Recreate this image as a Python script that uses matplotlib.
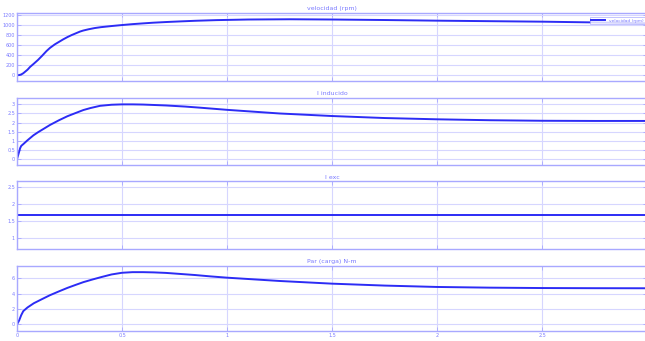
import matplotlib
matplotlib.use("Agg")
import matplotlib.pyplot as plt

# ---- datos ----
t_vel = [0, 0.01, 0.02, 0.03, 0.04, 0.05, 0.062, 0.08, 0.1, 0.12, 0.14, 0.157,
         0.18, 0.2, 0.22, 0.24, 0.26, 0.28, 0.3, 0.315, 0.34, 0.37, 0.4, 0.45,
         0.5, 0.55, 0.6, 0.65, 0.71, 0.78, 0.85, 0.95, 1.1, 1.3, 1.5, 1.75,
         2.0, 2.25, 2.5, 2.75, 3.0]
velocidad = [0, 3, 15, 40, 75, 110, 165, 230, 305, 390, 480, 545,
             615, 665, 715, 760, 800, 835, 870, 890, 915, 940, 958, 980,
             1000, 1018, 1033, 1047, 1060, 1073, 1085, 1098, 1110, 1115, 1110, 1100,
             1087, 1077, 1067, 1052, 1035]

t_ia = [0, 0.005, 0.01, 0.015, 0.02, 0.03, 0.05, 0.078, 0.1, 0.13, 0.157, 0.2,
        0.24, 0.28, 0.316, 0.35, 0.395, 0.45, 0.5, 0.55, 0.6, 0.71, 0.8, 0.87,
        1.0, 1.25, 1.5, 1.75, 2.0, 2.25, 2.5, 2.75, 3.0]
i_inducido = [0, 0.2, 0.4, 0.6, 0.72, 0.82, 1.03, 1.3, 1.47, 1.68, 1.87, 2.13,
              2.35, 2.53, 2.69, 2.8, 2.92, 2.98, 3.0, 3.0, 2.99, 2.94, 2.88, 2.82,
              2.7, 2.5, 2.36, 2.25, 2.18, 2.13, 2.1, 2.09, 2.09]

t_exc = [0, 3.0]
i_exc = [1.68, 1.68]

t_par = [0, 0.01, 0.02, 0.03, 0.05, 0.08, 0.12, 0.157, 0.2, 0.24, 0.28, 0.316,
         0.36, 0.4, 0.45, 0.5, 0.55, 0.6, 0.65, 0.71, 0.78, 0.85, 0.92, 1.0,
         1.25, 1.5, 1.75, 2.0, 2.25, 2.5, 2.75, 3.0]
par = [0, 0.5, 1.2, 1.73, 2.2, 2.75, 3.3, 3.8, 4.3, 4.75, 5.15, 5.5,
       5.85, 6.15, 6.5, 6.72, 6.8, 6.8, 6.77, 6.7, 6.56, 6.42, 6.25, 6.08,
       5.65, 5.3, 5.05, 4.87, 4.78, 4.73, 4.71, 4.7]

titulos = ["velocidad (rpm)", "I inducido", "I exc", "Par (carga) N-m"]
yticks = [[0, 200, 400, 600, 800, 1000, 1200],
          [0, 0.5, 1, 1.5, 2, 2.5, 3],
          [1, 1.5, 2, 2.5],
          [0, 2, 4, 6]]
ylims = [(-115, 1240), (-0.33, 3.35), (0.685, 2.665), (-0.87, 7.6)]
xticks = [0, 0.5, 1, 1.5, 2, 2.5, 3]
xticklabels = ["0", "0.5", "1", "1.5", "2", "2.5", ""]

# ---- estilo ----
borde = "#a8a8ff"
rejilla = "#d6d6ff"
texto = "#7a7aff"
linea = "#2c2cf5"

fig = plt.figure(figsize=(6.45, 3.41), dpi=100)
fig.patch.set_facecolor("white")

# posiciones (izq, abajo, ancho, alto) en fraccion de figura
posiciones = [
    (0.0264, 0.7625, 0.977, 0.1994),
    (0.0264, 0.5161, 0.977, 0.1965),
    (0.0264, 0.2698, 0.977, 0.1980),
    (0.0264, 0.0293, 0.977, 0.1906),
]
series = [(t_vel, velocidad), (t_ia, i_inducido), (t_exc, i_exc), (t_par, par)]

for k, pos in enumerate(posiciones):
    ax = fig.add_axes(pos)
    tx, yv = series[k]
    lbl = "velocidad (rpm)" if k == 0 else None
    ax.plot(tx, yv, color=linea, linewidth=1.4, solid_joinstyle="round", label=lbl)
    ax.set_xlim(0, 3)
    ax.set_ylim(*ylims[k])
    ax.set_xticks(xticks)
    ax.set_yticks(yticks[k])
    ax.set_yticklabels([f"{v:g}" for v in yticks[k]])
    if k == 3:
        ax.set_xticklabels(xticklabels)
    else:
        ax.set_xticklabels([])
    ax.grid(True, color=rejilla, linewidth=0.8)
    ax.set_axisbelow(True)
    for s in ax.spines.values():
        s.set_color(borde)
        s.set_linewidth(1.0)
    ax.tick_params(direction="in", length=3, width=0.6, colors=borde,
                   labelcolor=texto, labelsize=3.5, pad=1.5,
                   right=True, top=True)
    ax.set_title(titulos[k], fontsize=4.5, color=texto, pad=2)
    if k == 0:
        leg = ax.legend(loc="upper right", bbox_to_anchor=(1.0, 0.97), fontsize=3.2,
                        frameon=True, fancybox=False, handlelength=3.2,
                        borderpad=0.3, labelcolor=texto)
        leg.get_frame().set_edgecolor(borde)
        leg.get_frame().set_linewidth(0.6)

fig.savefig("out.png", dpi=100, facecolor="white")
